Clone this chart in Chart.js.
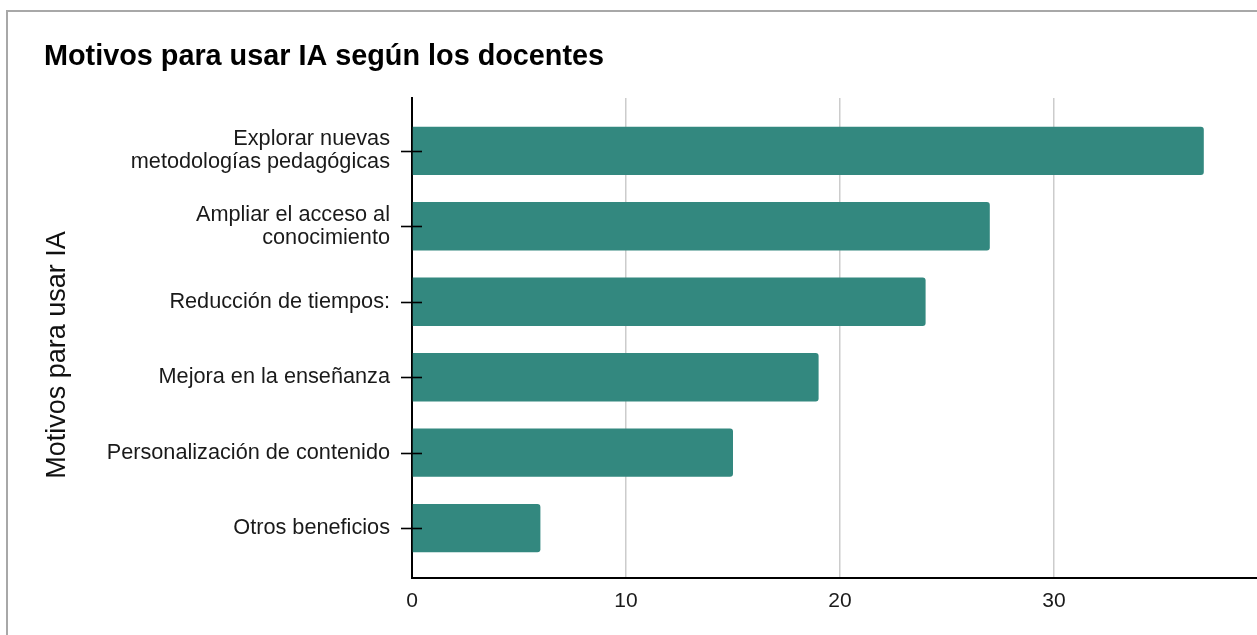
<!DOCTYPE html>
<html>
<head>
<meta charset="utf-8">
<script src="https://cdn.jsdelivr.net/npm/chart.js@4"></script>
<style>
  html, body { margin: 0; padding: 0; width: 1257px; height: 635px; overflow: hidden; background: #fff; }
  #frame { position: absolute; left: 6px; top: 10px; width: 1400px; height: 700px; border-left: 2px solid #a8a8a8; border-top: 2px solid #a8a8a8; }
  #c { position: absolute; left: 0; top: 0; }
</style>
</head>
<body>
<div id="frame"></div>
<canvas id="c" width="1300" height="635"></canvas>
<script>
const chartTitle = 'Motivos para usar IA según los docentes';
const yAxisTitle = 'Motivos para usar IA';
const categories = [
  ['Explorar nuevas', 'metodologías pedagógicas'],
  ['Ampliar el acceso al', 'conocimiento'],
  'Reducción de tiempos:',
  'Mejora en la enseñanza',
  'Personalización de contenido',
  'Otros beneficios'
];
const values = [37, 27, 24, 19, 15, 6];
const xTicks = [0, 10, 20, 30];

const FONT = "'Liberation Sans', Arial, sans-serif";
const barColor = '#33887f';

const axisExtras = {
  id: 'axisExtras',
  afterDatasetsDraw(chart) {
    const ctx = chart.ctx;
    const y = chart.scales.y;
    const left = chart.chartArea.left;
    ctx.save();
    ctx.strokeStyle = '#000';
    ctx.lineWidth = 1.6;
    categories.forEach((_, i) => {
      const py = Math.round(y.getPixelForValue(i)) + 0.5;
      ctx.beginPath();
      ctx.moveTo(left - 11, py);
      ctx.lineTo(left + 10, py);
      ctx.stroke();
    });
    ctx.restore();
  },
  afterDraw(chart) {
    const ctx = chart.ctx;
    ctx.save();
    ctx.translate(58, 355);
    ctx.rotate(-Math.PI / 2);
    ctx.font = '27px ' + FONT;
    ctx.fillStyle = '#111';
    ctx.textAlign = 'center';
    ctx.textBaseline = 'middle';
    ctx.fillText(yAxisTitle, 0, 0);
    ctx.restore();
  }
};

new Chart(document.getElementById('c'), {
  type: 'bar',
  data: {
    datasets: [{
      data: values.map((v, i) => ({ x: v, y: i })),
      backgroundColor: barColor,
      borderWidth: 0,
      borderRadius: 3,
      borderSkipped: 'start',
      barPercentage: 0.64,
      categoryPercentage: 1
    }]
  },
  options: {
    indexAxis: 'y',
    responsive: false,
    animation: false,
    layout: { padding: { left: 44, top: 40, right: 32, bottom: 17 } },
    plugins: {
      legend: { display: false },
      tooltip: { enabled: false },
      title: {
        display: true,
        text: chartTitle,
        align: 'start',
        color: '#000',
        font: { family: FONT, size: 28.8, weight: 'bold', lineHeight: 1.2 },
        padding: { top: 0, bottom: 23.4 }
      }
    },
    scales: {
      x: {
        type: 'linear',
        min: 0,
        max: 40,
        afterBuildTicks: (s) => { s.ticks = xTicks.map(v => ({ value: v })); },
        afterFit: (s) => { s.height = 40; },
        ticks: { color: '#1a1a1a', font: { family: FONT, size: 21 }, padding: 11 },
        grid: { color: '#cccccc', lineWidth: 1.5, drawTicks: false },
        border: { color: '#000', width: 2 }
      },
      y: {
        type: 'linear',
        reverse: true,
        offset: false,
        min: -0.7,
        max: 5.66,
        afterBuildTicks: (s) => { s.ticks = categories.map((_, i) => ({ value: i })); },
        afterFit: (s) => { s.width = 412 - 44; },
        ticks: {
          color: '#1a1a1a',
          font: { family: FONT, size: 21.7, lineHeight: 1.05 },
          padding: 22,
          callback: (v) => categories[v]
        },
        grid: { display: true, offset: false, drawOnChartArea: false, drawTicks: false },
        border: { color: '#000', width: 2 }
      }
    }
  },
  plugins: [axisExtras]
});
</script>
</body>
</html>
